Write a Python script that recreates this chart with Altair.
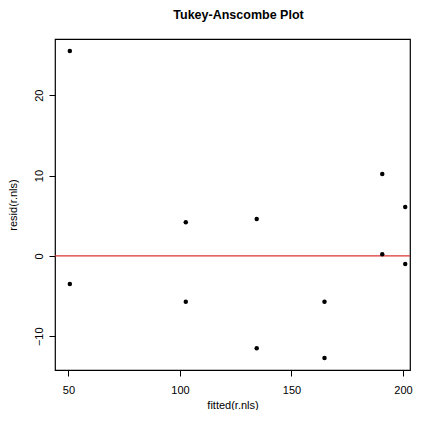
import altair as alt
import pandas as pd

fitted = [50.6, 50.6, 102.6, 102.6, 134.4, 134.4, 164.8, 164.8, 190.7, 190.7, 201.0, 201.0]
resid = [25.5, -3.5, 4.2, -5.7, 4.6, -11.5, -5.7, -12.7, 10.2, 0.2, 6.1, -1.0]
x_ticks = [50, 100, 150, 200]
y_ticks = [-10, 0, 10, 20]

df = pd.DataFrame({"fitted": fitted, "resid": resid})
zero = pd.DataFrame({"y": [0]})

FONT = "Liberation Sans"

x_scale = alt.Scale(domain=[43.95, 203.14], nice=False, zero=False)
y_scale = alt.Scale(domain=[-14.2, 27.0], nice=False, zero=False)

pts = alt.Chart(df).mark_circle(color="black", opacity=1, size=20).encode(
    x=alt.X("fitted:Q", scale=x_scale,
            axis=alt.Axis(title="fitted(r.nls)", values=x_ticks, domain=False,
                          grid=False, tickColor="black", tickSize=6,
                          labelFont=FONT, labelFontSize=11, labelColor="black",
                          labelPadding=8, titleFont=FONT, titleFontSize=11,
                          titleFontWeight="normal", titleColor="black",
                          titlePadding=4)),
    y=alt.Y("resid:Q", scale=y_scale,
            axis=alt.Axis(title="resid(r.nls)", values=y_ticks, domain=False,
                          grid=False, tickColor="black", tickSize=6,
                          labelAngle=-90, labelAlign="center",
                          labelBaseline="bottom",
                          labelFont=FONT, labelFontSize=11, labelColor="black",
                          labelPadding=5, titleFont=FONT, titleFontSize=11,
                          titleFontWeight="normal", titleColor="black",
                          titlePadding=15)),
)

rule = alt.Chart(zero).mark_rule(color="#dd3333", strokeWidth=1.2).encode(
    y=alt.Y("y:Q", scale=y_scale)
)

chart = (rule + pts).properties(
    width=355,
    height=331,
    title=alt.TitleParams("Tukey-Anscombe Plot", font=FONT, fontSize=12.5,
                          fontWeight="bold", color="black", offset=18, dx=6),
    autosize=alt.AutoSizeParams(type="none"),
    padding={"left": 47, "top": 31, "right": 4, "bottom": 40},
    background="white",
).configure_view(stroke="black", strokeWidth=1.2)

chart.save("out.html", embed_options={"renderer": "svg", "actions": False})
